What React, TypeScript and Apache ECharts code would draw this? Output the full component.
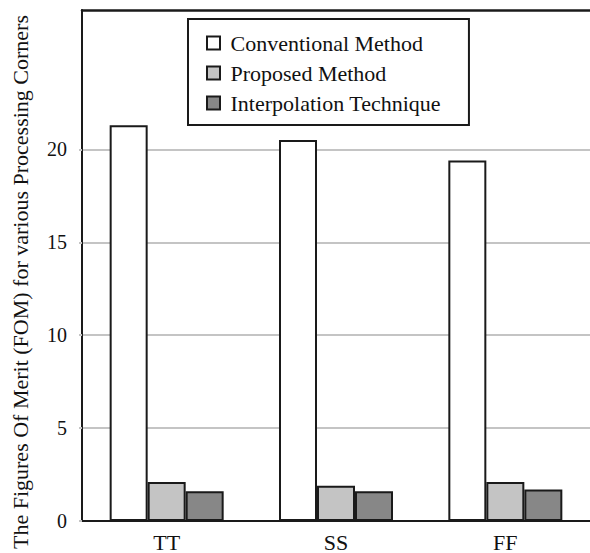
import React, { useEffect, useRef } from "react";
import * as echarts from "echarts";

const categories = ["TT", "SS", "FF"];
const conventional = [21.3, 20.5, 19.4];
const proposed = [2.1, 1.9, 2.1];
const interpolation = [1.6, 1.6, 1.7];
const tickValues = [0, 5, 10, 15, 20];
const seriesNames = ["Conventional Method", "Proposed Method", "Interpolation Technique"];
const yTitle = "The Figures Of Merit (FOM) for various Processing Corners";

const FONT = "serif";

export default function App() {
  const ref = useRef<HTMLDivElement>(null);
  useEffect(() => {
    if (!ref.current) return;
    const chart = echarts.init(ref.current, null, { renderer: "svg" });
    const border = { borderColor: "#1a1a1a", borderWidth: 2 };
    chart.setOption({
      animation: false,
      backgroundColor: "#ffffff",
      grid: { left: 82, top: 10, width: 515, bottom: 31, containLabel: false },
      legend: {
        orient: "vertical",
        left: 188,
        top: 19,
        padding: [13, 28, 11, 18],
        backgroundColor: "#ffffff",
        borderColor: "#1a1a1a",
        borderWidth: 2,
        itemWidth: 13,
        itemHeight: 13,
        itemGap: 8,
        icon: "rect",
        formatter: (name: string) => " " + name,
        textStyle: { fontFamily: FONT, fontSize: 22, color: "#111" },
        data: seriesNames,
      },
      xAxis: [
        {
          type: "category",
          data: categories,
          axisLine: { lineStyle: { color: "#1a1a1a", width: 2 } },
          axisTick: { show: false },
          axisLabel: { fontFamily: FONT, fontSize: 22, color: "#111", margin: 10 },
        },
        {
          type: "category",
          data: categories,
          position: "top",
          axisLine: { lineStyle: { color: "#1a1a1a", width: 2.5 } },
          axisTick: { show: false },
          axisLabel: { show: false },
        },
      ],
      yAxis: {
        type: "value",
        min: 0,
        max: 27.5,
        axisLine: { show: true, lineStyle: { color: "#1a1a1a", width: 2 } },
        axisTick: { show: true, length: 3, lineStyle: { color: "#c4c4c4", width: 2 }, customValues: tickValues },
        axisLabel: { fontFamily: FONT, fontSize: 20, color: "#111", margin: 15, customValues: tickValues },
        splitLine: { show: true, lineStyle: { color: "#c4c4c4", width: 2 } },
      },
      graphic: [
        {
          type: "text",
          x: 20,
          y: 282,
          rotation: Math.PI / 2,
          style: {
            text: yTitle,
            fontFamily: FONT,
            fontSize: 22,
            fill: "#111",
            align: "center",
            verticalAlign: "middle",
          },
        },
      ],
      series: [
        { name: seriesNames[0], type: "bar", data: conventional, barWidth: 38, barGap: "0%", itemStyle: { color: "#ffffff", ...border } },
        { name: seriesNames[1], type: "bar", data: proposed, barWidth: 38, barGap: "0%", itemStyle: { color: "#c4c4c4", ...border } },
        { name: seriesNames[2], type: "bar", data: interpolation, barWidth: 38, barGap: "0%", itemStyle: { color: "#878787", ...border } },
      ],
    });
    return () => chart.dispose();
  }, []);
  return (
    <div
      ref={ref}
      style={{ position: "fixed", left: 0, top: 0, width: 590, height: 553, background: "#fff" }}
    />
  );
}
